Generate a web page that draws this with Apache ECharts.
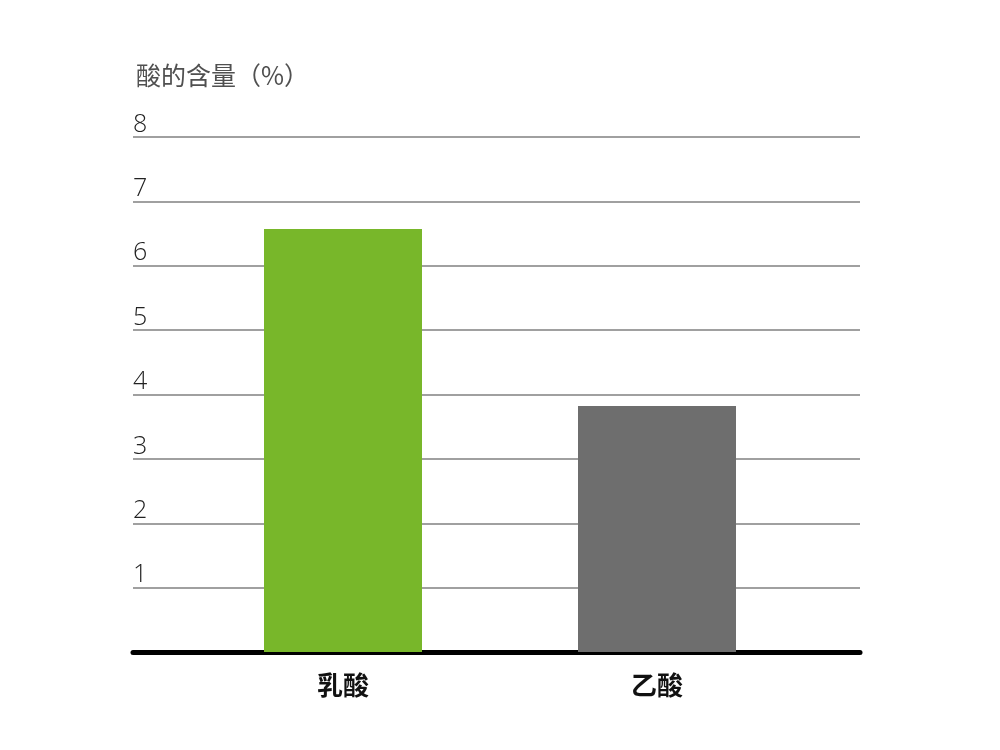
<!DOCTYPE html>
<html>
<head>
<meta charset="utf-8">
<script src="https://cdn.jsdelivr.net/npm/echarts@6/dist/echarts.min.js"></script>
<style>
  html, body { margin: 0; padding: 0; background: #fff; }
  #main { width: 1000px; height: 750px; }
</style>
</head>
<body>
<div id="main"></div>
<script>
const categories = ["乳酸", "乙酸"];
const values = [6.57, 3.82];
const barColors = ["#78b72a", "#6e6e6e"];
const yTicks = [0, 1, 2, 3, 4, 5, 6, 7, 8];

const font = "'Noto Sans CJK SC', 'Noto Sans', sans-serif";

const chart = echarts.init(document.getElementById("main"));

chart.setOption({
  backgroundColor: "#fff",
  animation: false,
  title: {
    text: "酸的含量（%）",
    left: 131,
    top: 58,
    textStyle: { fontFamily: font, fontSize: 25, fontWeight: "normal", color: "#505050" },
  },
  grid: [
    // wide grid for grid lines, y labels and the black base line
    { left: 133, right: 140, top: 137, bottom: 98 },
    // narrower grid holding the bars
    { left: 186, right: 186, top: 137, bottom: 98 },
  ],
  xAxis: [
    {
      gridIndex: 0,
      type: "value",
      min: 0,
      max: 1,
      axisLine: { show: true, lineStyle: { color: "#000", width: 5 } },
      axisTick: { show: false },
      axisLabel: { show: false },
      splitLine: { show: false },
    },
    {
      gridIndex: 1,
      type: "category",
      data: categories,
      axisLine: { show: false },
      axisTick: { show: false },
      axisLabel: {
        margin: 20,
        fontFamily: font,
        fontSize: 26,
        fontWeight: "bold",
        color: "#111",
      },
    },
  ],
  yAxis: [
    {
      gridIndex: 0,
      type: "value",
      min: yTicks[0],
      max: yTicks[yTicks.length - 1],
      interval: 1,
      axisLine: { show: false },
      axisTick: { show: false },
      splitLine: { show: true, lineStyle: { color: "#a0a0a0", width: 2 } },
      axisLabel: {
        inside: true,
        margin: 0,
        verticalAlign: "bottom",
        padding: [0, 0, 0, 0],
        fontFamily: "'Open Sans', sans-serif",
        fontWeight: 300,
        fontSize: 25,
        color: "#222",
        formatter: (v) => (v === 0 ? "" : String(v)),
      },
    },
    {
      gridIndex: 1,
      type: "value",
      min: yTicks[0],
      max: yTicks[yTicks.length - 1],
      interval: 1,
      show: false,
      splitLine: { show: false },
    },
  ],
  series: [
    {
      type: "bar",
      xAxisIndex: 1,
      yAxisIndex: 1,
      barWidth: 158,
      data: values.map((v, i) => ({ value: v, itemStyle: { color: barColors[i] } })),
      z: 1,
    },
  ],
});
</script>
</body>
</html>
